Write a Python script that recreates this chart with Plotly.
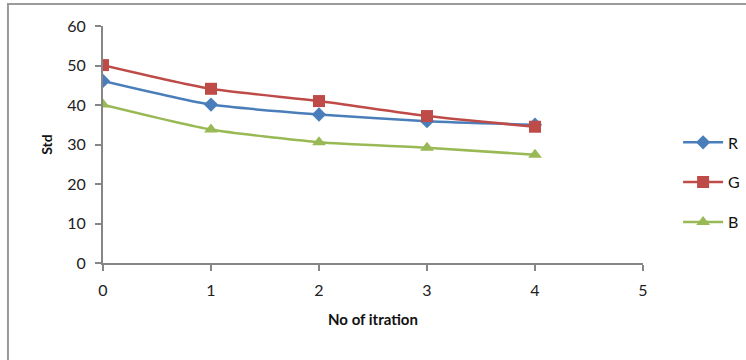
import plotly.graph_objects as go

# Standard deviation per channel over iterations
iterations = [0, 1, 2, 3, 4]
std_r = [46.1, 40.1, 37.6, 35.9, 35.0]
std_g = [50.1, 44.1, 41.0, 37.2, 34.5]
std_b = [40.1, 33.8, 30.6, 29.2, 27.4]

x_ticks = [0, 1, 2, 3, 4, 5]
y_ticks = [0, 10, 20, 30, 40, 50, 60]

series = [
    ("R", std_r, "#4A7EBB", "diamond", 11),
    ("G", std_g, "#BE4B48", "square", 12),
    ("B", std_b, "#98B954", "triangle-up", 12),
]

font_family = "Lato, 'Open Sans', sans-serif"

fig = go.Figure()
for name, vals, color, symbol, size in series:
    fig.add_trace(go.Scatter(
        x=iterations, y=vals, name=name, legendgroup=name,
        mode="lines+markers",
        line=dict(color=color, width=2.5, shape="spline", smoothing=0.6),
        marker=dict(symbol=symbol, size=size, color=color),
    ))

fig.update_layout(
    width=746, height=360,
    margin=dict(l=103, r=103, t=26, b=97, autoexpand=False),
    paper_bgcolor="white", plot_bgcolor="white",
    font=dict(family=font_family, size=15, color="#222222"),
    showlegend=True,
    legend=dict(
        x=1.065, y=0.34, xanchor="left", yanchor="middle",
        font=dict(size=16, color="#111111"),
        traceorder="grouped", tracegroupgap=16, itemwidth=40,
        bgcolor="rgba(0,0,0,0)",
    ),
    xaxis=dict(
        range=[0, 5], tickvals=x_ticks, showgrid=False, zeroline=False,
        showline=True, linecolor="#868686", linewidth=2,
        ticks="outside", ticklen=6, tickcolor="#868686", tickwidth=1.5,
        ticklabelstandoff=6,
        tickfont=dict(size=16, color="#222222"),
        title=dict(text="<b>No of itration</b>", font=dict(size=15, color="#111111"), standoff=16),
        fixedrange=True,
    ),
    yaxis=dict(
        range=[0, 60], tickvals=y_ticks, showgrid=False, zeroline=False,
        showline=True, linecolor="#868686", linewidth=2,
        ticks="outside", ticklen=6, tickcolor="#868686", tickwidth=1.5,
        ticklabelstandoff=6,
        tickfont=dict(size=16, color="#222222"),
        title=dict(text="<b>Std</b>", font=dict(size=14, color="#111111"), standoff=11),
        fixedrange=True,
    ),
    shapes=[dict(
        type="rect", xref="paper", yref="paper",
        x0=-0.176, x1=1.25, y0=-0.5, y1=1.093,
        line=dict(color="#9a9a9a", width=2), fillcolor="rgba(0,0,0,0)",
        layer="below",
    )],
)

fig.write_html("out.html")
